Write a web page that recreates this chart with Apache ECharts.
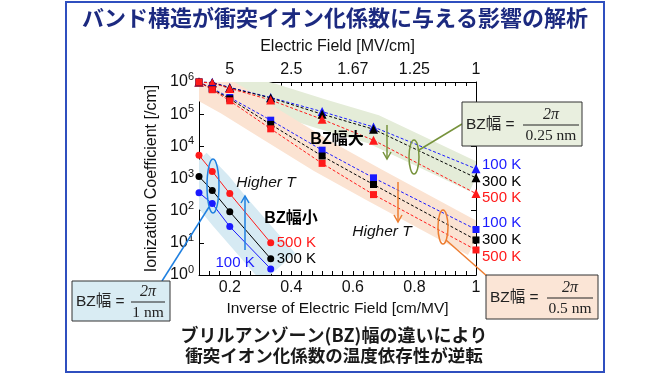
<!DOCTYPE html>
<html><head><meta charset="utf-8">
<script src="https://cdn.jsdelivr.net/npm/echarts@6/dist/echarts.min.js"></script>
<style>html,body{margin:0;padding:0;background:#fff}#c{width:670px;height:380px}</style>
</head><body><div id="c"></div>
<script>
// ---- data ----
const invField = [0.1, 0.143, 0.2, 0.333, 0.5, 0.667, 1];        // 1/E [cm/MV]
const invFieldSmall = [0.1, 0.143, 0.2, 0.333];
// BZ 2π/1 nm (circles)
const circ100 = [363, 166, 32, 1.55];
const circ300 = [1150, 427, 93, 3.2];
const circ500 = [5250, 1660, 339, 10];
// BZ 2π/0.5 nm (squares)
const sq100 = [1.0e6, 6.3e5, 3.3e5, 6.5e4, 7.6e3, 1.05e3, 26];
const sq300 = [1.0e6, 6.0e5, 3.0e5, 4.8e4, 5.0e3, 650, 12.3];
const sq500 = [1.0e6, 5.75e5, 2.6e5, 3.5e4, 2.95e3, 316, 6.0];
// BZ 2π/0.25 nm (triangles)
const tri100 = [1.0e6, 9.8e5, 6.8e5, 3.3e5, 1.2e5, 4.0e4, 2.0e3];
const tri300 = [1.0e6, 9.5e5, 6.6e5, 3.2e5, 1.0e5, 3.4e4, 1.05e3];
const tri500 = [1.0e6, 9.3e5, 6.3e5, 2.75e5, 6.9e4, 1.55e4, 340];
// tick labels
const bottomTickValues = [0.2, 0.4, 0.6, 0.8, 1];
const bottomTickLabels = ['0.2', '0.4', '0.6', '0.8', '1'];
const topTickLabels = ['5', '2.5', '1.67', '1.25', '1'];
const tempLabels = ['100 K', '300 K', '500 K'];

const minorTicks = [];
for (let k = 0; k <= 27; k++) minorTicks.push(Math.round((0.1 + k / 30) * 10000) / 10000);

const pair = (xs, ys) => ys.map((v, i) => [xs[i], v]);
const FONT = "'Liberation Sans','Noto Sans CJK JP',sans-serif";
const SERIF = "'Liberation Serif','DejaVu Serif',serif";
const RED = '#ff1a1a', BLUE = '#1a1aff', BLACK = '#000000';

// shaded band following a series (polygon offset in pixel space from the scaled points)
function band(ys, xs, color, halfW, ext) {
  return {
    type: 'custom', z: 1, silent: true, clip: true,
    data: [pair(xs, ys)[0]],
    renderItem: function (params, api) {
      const p = xs.map((x, i) => api.coord([x, ys[i]]));
      const n = p.length;
      const dirs = [];
      for (let i = 0; i < n - 1; i++) {
        const dx = p[i + 1][0] - p[i][0], dy = p[i + 1][1] - p[i][1];
        const L = Math.hypot(dx, dy) || 1;
        dirs.push([dx / L, dy / L]);
      }
      const up = [], lo = [];
      for (let i = 0; i < n; i++) {
        let q = p[i].slice();
        let nx, ny;
        if (i === 0) { nx = -dirs[0][1]; ny = dirs[0][0]; q = [q[0] - dirs[0][0] * ext, q[1] - dirs[0][1] * ext]; }
        else if (i === n - 1) { const d = dirs[n - 2]; nx = -d[1]; ny = d[0]; q = [q[0] + d[0] * ext, q[1] + d[1] * ext]; }
        else {
          const a = [-dirs[i - 1][1], dirs[i - 1][0]], b = [-dirs[i][1], dirs[i][0]];
          let mx = a[0] + b[0], my = a[1] + b[1];
          const mL = Math.hypot(mx, my) || 1; mx /= mL; my /= mL;
          const c = Math.max(0.3, mx * a[0] + my * a[1]);
          nx = mx / c; ny = my / c;
        }
        up.push([q[0] + nx * halfW, q[1] + ny * halfW]);
        lo.push([q[0] - nx * halfW, q[1] - ny * halfW]);
      }
      return { type: 'polygon', shape: { points: up.concat(lo.reverse()) }, style: { fill: color } };
    }
  };
}
function ser(xs, ys, color, symbol, size, dashed, label, off, align) {
  return { type: 'line', data: pair(xs, ys), symbol: symbol, symbolSize: size, z: 3,
    itemStyle: { color: color }, lineStyle: { color: color, width: 1, type: dashed ? [3, 2] : 'solid' },
    endLabel: { show: true, formatter: label, color: color, fontSize: 15, fontFamily: FONT,
      offset: off, align: align || 'left', distance: 4 } };
}

const chart = echarts.init(document.getElementById('c'), null, { renderer: 'canvas' });

const axisCommon = {
  type: 'value', min: 0.1, max: 1,
  axisLine: { show: true, lineStyle: { color: '#000', width: 1 } },
  splitLine: { show: false },
  axisTick: { show: true, inside: true, length: 4, customValues: minorTicks, lineStyle: { color: '#000' } }
};

function frac(x, y, num, den, lineW) {
  return [
    { type: 'text', x: x, y: y - 10, style: { text: num, font: 'italic 16px ' + SERIF, fill: '#222', align: 'center', verticalAlign: 'middle' } },
    { type: 'line', shape: { x1: x - lineW / 2, y1: y, x2: x + lineW / 2, y2: y }, style: { stroke: '#222', lineWidth: 1 } },
    { type: 'text', x: x, y: y + 11, style: { text: den, font: '15.5px ' + SERIF, fill: '#222', align: 'center', verticalAlign: 'middle' } }
  ];
}
function bzBox(x, y, w, h, fill, fx, den, lw) {
  return [
    { type: 'rect', shape: { x: x, y: y, width: w, height: h }, style: { fill: fill, stroke: '#333', lineWidth: 1 }, z: 10 },
    { type: 'text', x: x + 4, y: y + h / 2 + 1, z: 11, style: { text: 'BZ幅 =', font: '15.5px ' + FONT, fill: '#222', verticalAlign: 'middle' } }
  ].concat(frac(fx, y + h / 2 + 1, '2π', den, lw).map(e => Object.assign(e, { z: 11 })));
}
function arrow(x, y1, y2, color) {
  const d = y2 > y1 ? -1 : 1;
  return [
    { type: 'line', shape: { x1: x, y1: y1, x2: x, y2: y2 }, style: { stroke: color, lineWidth: 1.5 }, z: 9 },
    { type: 'polyline', shape: { points: [[x - 4, y2 + d * 7], [x, y2], [x + 4, y2 + d * 7]] }, style: { stroke: color, lineWidth: 1.5, fill: null }, z: 9 }
  ];
}

const graphics = [
  { type: 'rect', shape: { x: 66, y: 2, width: 538, height: 370 }, style: { fill: null, stroke: '#2f4fbf', lineWidth: 2 }, z: 0 },
  { type: 'text', x: 335, y: 18, style: { text: 'バンド構造が衝突イオン化係数に与える影響の解析', font: 'bold 22px "Noto Sans CJK JP"', fill: '#1c2a80', align: 'center', verticalAlign: 'middle' } },
  { type: 'text', x: 334, y: 335, style: { text: 'ブリルアンゾーン(BZ)幅の違いにより', font: 'bold 18px "Noto Sans CJK JP"', fill: '#1a1a1a', align: 'center', verticalAlign: 'middle' } },
  { type: 'text', x: 334, y: 355, style: { text: '衝突イオン化係数の温度依存性が逆転', font: 'bold 17.5px "Noto Sans CJK JP"', fill: '#1a1a1a', align: 'center', verticalAlign: 'middle' } },
  { type: 'text', x: 337, y: 140, z: 9, style: { text: 'BZ幅大', font: 'bold 16px ' + FONT, fill: '#000', align: 'center', verticalAlign: 'middle' } },
  { type: 'text', x: 291, y: 219, z: 9, style: { text: 'BZ幅小', font: 'bold 16px ' + FONT, fill: '#000', align: 'center', verticalAlign: 'middle' } },
  { type: 'text', x: 266, y: 183, z: 9, style: { text: 'Higher T', font: 'italic 15.5px ' + FONT, fill: '#111', align: 'center', verticalAlign: 'middle' } },
  { type: 'text', x: 382, y: 232, z: 9, style: { text: 'Higher T', font: 'italic 15.5px ' + FONT, fill: '#111', align: 'center', verticalAlign: 'middle' } },
  { type: 'ellipse', shape: { cx: 213, cy: 186, rx: 6, ry: 27 }, style: { stroke: '#1e7fe0', lineWidth: 1.5, fill: null }, z: 9 },
  { type: 'line', shape: { x1: 209, y1: 207, x2: 162, y2: 281 }, style: { stroke: '#1e7fe0', lineWidth: 1.5 }, z: 9 },
  { type: 'ellipse', shape: { cx: 414, cy: 157, rx: 5, ry: 17 }, style: { stroke: '#77933c', lineWidth: 1.5, fill: null }, z: 9 },
  { type: 'line', shape: { x1: 419, y1: 150, x2: 462, y2: 124 }, style: { stroke: '#77933c', lineWidth: 1.5 }, z: 9 },
  { type: 'ellipse', shape: { cx: 443, cy: 227, rx: 5, ry: 17 }, style: { stroke: '#ed7d31', lineWidth: 1.5, fill: null }, z: 9 },
  { type: 'line', shape: { x1: 446, y1: 240, x2: 488, y2: 277 }, style: { stroke: '#ed7d31', lineWidth: 1.5 }, z: 9 }
].concat(arrow(245, 250, 196, '#1e7fe0'))
 .concat(arrow(387, 125, 159, '#77933c'))
 .concat(arrow(398, 182, 222, '#ed7d31'))
 .concat(bzBox(72, 281, 98, 40, '#d9ecf3', 148, '1 nm', 34))
 .concat(bzBox(462, 102, 120, 44, '#e9efdf', 551, '0.25 nm', 56))
 .concat(bzBox(486, 275, 112, 44, '#fbe5d6', 570, '0.5 nm', 46));

chart.setOption({
  animation: false,
  backgroundColor: '#fff',
  textStyle: { fontFamily: FONT },
  grid: { left: 199, right: 194, top: 82, bottom: 105, containLabel: false },
  xAxis: [
    Object.assign({}, axisCommon, {
      position: 'bottom',
      name: 'Inverse of Electric Field [cm/MV]', nameLocation: 'middle', nameGap: 17,
      nameTextStyle: { fontSize: 15.5, color: '#111', fontFamily: FONT },
      axisLabel: { customValues: bottomTickValues, fontSize: 16, color: '#111', margin: 5, fontFamily: FONT,
        formatter: v => bottomTickLabels[bottomTickValues.findIndex(t => Math.abs(t - v) < 1e-6)] }
    }),
    Object.assign({}, axisCommon, {
      position: 'top',
      name: 'Electric Field [MV/cm]', nameLocation: 'middle', nameGap: 27,
      nameTextStyle: { fontSize: 16, color: '#111', fontFamily: FONT },
      axisLabel: { customValues: bottomTickValues, fontSize: 16, color: '#111', margin: 4, fontFamily: FONT,
        formatter: v => topTickLabels[bottomTickValues.findIndex(t => Math.abs(t - v) < 1e-6)] }
    })
  ],
  yAxis: [
    { type: 'log', logBase: 10, min: 1, max: 1e6, interval: 1, position: 'left',
      name: 'Ionization Coefficient [/cm]', nameLocation: 'middle', nameGap: 39,
      nameTextStyle: { fontSize: 16, color: '#111', fontFamily: FONT },
      axisLine: { show: true, lineStyle: { color: '#000' } }, splitLine: { show: false },
      axisTick: { show: true, inside: true, length: 5, lineStyle: { color: '#000' } },
      axisLabel: { margin: 5, color: '#111', fontFamily: FONT,
        formatter: v => '{b|10}{s|' + Math.round(Math.log10(v)) + '}',
        rich: { b: { fontSize: 16, color: '#111', fontFamily: FONT }, s: { fontSize: 11, color: '#111', fontFamily: FONT, padding: [0, 0, 10, 0] } } } },
    { type: 'log', logBase: 10, min: 1, max: 1e6, interval: 1, position: 'right',
      axisLine: { show: true, lineStyle: { color: '#000' } }, splitLine: { show: false },
      axisTick: { show: true, inside: true, length: 5, lineStyle: { color: '#000' } },
      axisLabel: { show: false } }
  ],
  series: [
    band(tri300, invField, '#e4ecd8', 15, 0),
    band(sq300, invField, '#fbe3d2', 17, 0),
    band(circ300, invFieldSmall, '#d6eaf3', 22, 12),
    ser(invField, tri100, BLUE, 'triangle', 9, true, tempLabels[0], [2, -4]),
    ser(invField, tri300, BLACK, 'triangle', 9, true, tempLabels[1], [2, 4]),
    ser(invField, tri500, RED, 'triangle', 9, true, tempLabels[2], [2, 4]),
    ser(invField, sq100, BLUE, 'rect', 7, true, tempLabels[0], [2, -7]),
    ser(invField, sq300, BLACK, 'rect', 7, true, tempLabels[1], [2, 0]),
    ser(invField, sq500, RED, 'rect', 7, true, tempLabels[2], [2, 7]),
    ser(invFieldSmall, circ100, BLUE, 'circle', 7, false, tempLabels[0], [-20, -6], 'right'),
    ser(invFieldSmall, circ300, BLACK, 'circle', 7, false, tempLabels[1], [2, 0]),
    ser(invFieldSmall, circ500, RED, 'circle', 7, false, tempLabels[2], [2, 0])
  ],
  graphic: graphics
});
</script></body></html>
